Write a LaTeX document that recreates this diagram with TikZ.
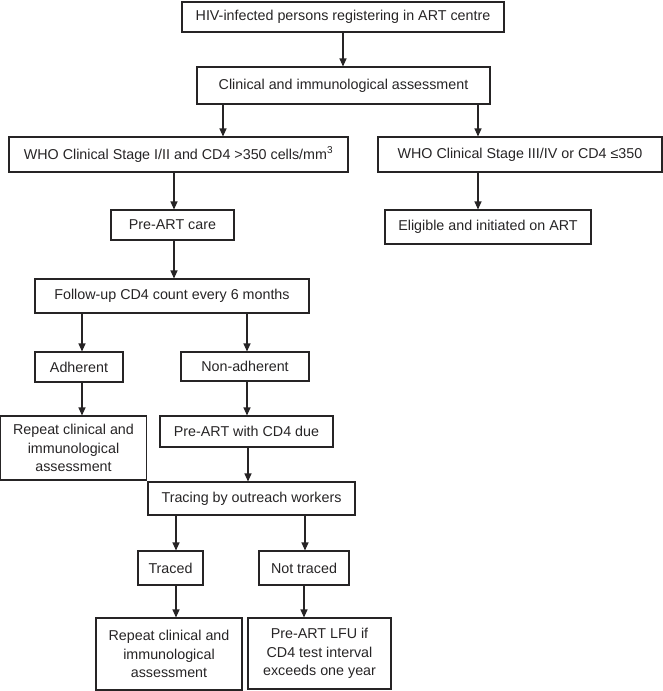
\documentclass[tikz,border=0pt]{standalone}
\usepackage{fontspec}
\setmainfont{Liberation Sans}
\usetikzlibrary{arrows.meta}
\definecolor{ink}{HTML}{262425}
\tikzset{
  box/.style={draw=ink, text=ink, line width=1.1pt, inner sep=0pt, align=center,
    font=\fontsize{14.3pt}{18.3pt}\selectfont},
  arr/.style={draw=ink, line width=1.1pt, -{Triangle[length=8pt,width=7pt]}}
}
\newcommand{\bx}[6]{\node[box, minimum width=#4pt, minimum height=#5pt] (#1) at (#2,#3) {#6};}
\begin{document}
\begin{tikzpicture}[x=1pt,y=-1pt]
\useasboundingbox (0,0) rectangle (663,691);
\bx{b1}{343}{17}{322}{30}{HIV-infected persons registering in ART centre}
\bx{b2}{343.5}{85.5}{293}{37}{Clinical and immunological assessment}
\bx{b3}{178.5}{154.5}{339}{35}{WHO Clinical Stage I/II and CD4 >350 cells/mm\textsuperscript{3}}
\bx{b4}{520}{154.5}{284}{35}{WHO Clinical Stage III/IV or CD4 ≤350}
\bx{pre}{172.5}{225}{123}{30}{Pre-ART care}
\bx{elig}{488}{227}{206}{34}{Eligible and initiated on ART}
\bx{fol}{172}{296}{274}{34}{Follow-up CD4 count every 6 months}
\bx{adh}{79}{367}{88}{30}{Adherent}
\bx{nadh}{245}{366.5}{128}{29}{Non-adherent}
\bx{rep1}{73.5}{448}{146}{64}{Repeat clinical and\\immunological\\assessment}
\bx{due}{246.5}{431.5}{173}{31}{Pre-ART with CD4 due}
\bx{trc}{251.5}{498.5}{207}{33}{Tracing by outreach workers}
\bx{trd}{170.5}{568}{65}{34}{Traced}
\bx{ntr}{304}{568}{90}{34}{Not traced}
\bx{rep2}{169}{654}{146}{72}{Repeat clinical and\\immunological\\assessment}
\bx{lfu}{319.5}{653.5}{143}{71}{Pre-ART LFU if\\CD4 test interval\\exceeds one year}
\draw[arr] (b1.south) -- (b1.south |- b2.north);
\draw[arr] ([xshift=-120.5pt]b2.south) -- ([xshift=-120.5pt]b2.south |- b3.north);
\draw[arr] ([xshift=134.5pt]b2.south) -- ([xshift=134.5pt]b2.south |- b4.north);
\draw[arr] ([xshift=-4.5pt]b3.south) -- ([xshift=-4.5pt]b3.south |- pre.north);
\draw[arr] ([xshift=-42pt]b4.south) -- ([xshift=-42pt]b4.south |- elig.north);
\draw[arr] ([xshift=1.5pt]pre.south) -- ([xshift=1.5pt]pre.south |- fol.north);
\draw[arr] ([xshift=-90pt]fol.south) -- ([xshift=-90pt]fol.south |- adh.north);
\draw[arr] ([xshift=75pt]fol.south) -- ([xshift=75pt]fol.south |- nadh.north);
\draw[arr] ([xshift=3pt]adh.south) -- ([xshift=3pt]adh.south |- rep1.north);
\draw[arr] ([xshift=2pt]nadh.south) -- ([xshift=2pt]nadh.south |- due.north);
\draw[arr] ([xshift=1.5pt]due.south) -- ([xshift=1.5pt]due.south |- trc.north);
\draw[arr] ([xshift=-75.5pt]trc.south) -- ([xshift=-75.5pt]trc.south |- trd.north);
\draw[arr] ([xshift=53.5pt]trc.south) -- ([xshift=53.5pt]trc.south |- ntr.north);
\draw[arr] ([xshift=5.5pt]trd.south) -- ([xshift=5.5pt]trd.south |- rep2.north);
\draw[arr] (ntr.south) -- (ntr.south |- lfu.north);
\end{tikzpicture}
\end{document}
